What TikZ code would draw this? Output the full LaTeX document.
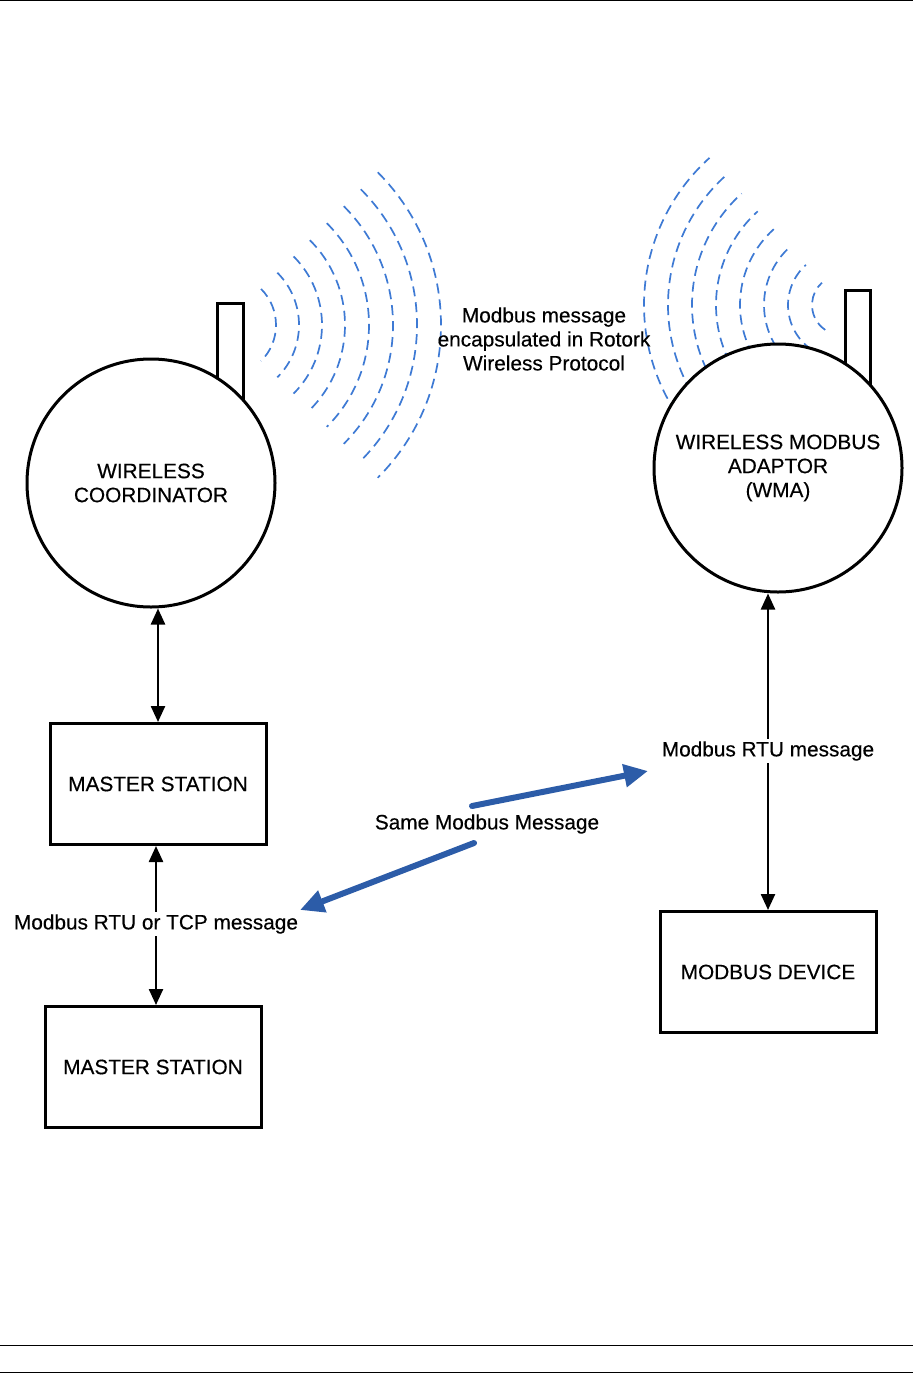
\documentclass[tikz,border=0pt]{standalone}
\usepackage{fontspec}
\setmainfont{Liberation Sans}[FakeBold=0.35]
\usetikzlibrary{arrows.meta}

\definecolor{wavecol}{RGB}{62,122,212}
\definecolor{msgcol}{RGB}{44,92,168}

\begin{document}
\begin{tikzpicture}[x=1pt,y=-1pt,
        every node/.style={font=\fontsize{20.8}{24}\selectfont},
        unit/.style={draw, circle, line width=3pt, fill=white, minimum size=248pt, inner sep=0pt, align=center},
        stationbox/.style={draw, line width=3pt, fill=white, minimum width=216pt, minimum height=121pt},
        antenna/.style={draw, line width=3pt},
        wave/.style={wavecol, line width=1.7pt, dash pattern=on 10pt off 6pt},
        link/.style={{Triangle[length=16pt,width=14pt]}-{Triangle[length=16pt,width=14pt]}, line width=2.4pt},
        samemsg/.style={-{Triangle[length=24pt,width=22pt]}, msgcol, line width=6pt, line cap=round},
        tag/.style={fill=white, inner sep=2pt}]
        \useasboundingbox (0,0) rectangle (913,1373);
        \draw[line width=1pt] (0,0.5) -- (913,0.5);
        \draw[line width=1pt] (0,1345) -- (913,1345);
        \draw[line width=1pt] (0,1372) -- (913,1372);

        % antennas
        \draw[antenna] (217,420) -- (217,303) -- (243,303) -- (243,420);
        \draw[antenna] (845,420) -- (845,290) -- (870,290) -- (870,420);

        % radio waves
        \foreach \r in {51,74,97,120,144,168,192,216}
            \draw[wave] (225,325) ++(-45:\r) arc[start angle=-45, end angle=45, radius=\r];
        \foreach \r in {30,54,78,102,126,150,174,198}
            \draw[wave] (842,305) ++(124:\r) arc[start angle=124, end angle=228, radius=\r];

        % units
        \node[unit] (coord) at (151,483) {WIRELESS\\COORDINATOR};
        \node[unit] (wma) at (778,468) {WIRELESS MODBUS\\ADAPTOR\\(WMA)};
        \node[stationbox] (master1) at (158,784) {MASTER STATION};
        \node[stationbox] (master2) at (153,1067) {MASTER STATION};
        \node[stationbox] (device) at (768,972) {MODBUS DEVICE};

        \node[align=center] (radio) at (544,339) {Modbus message\\encapsulated in Rotork\\Wireless Protocol};

        % wired links
        \draw[link] (coord.south -| master1.north) -- (master1.north);
        \draw[link] (master1.south -| 156,0) -- (master2.north -| 156,0);
        \draw[link] (wma.south -| device.north) -- (device.north);
        \node[tag] (tcpmsg) at (156,924) {Modbus RTU or TCP message};
        \node[tag] (rtumsg) at (768,751) {Modbus RTU message};

        % same message
        \node (same) at (487,824) {Same Modbus Message};
        \coordinate (sameup) at (472,806);
        \coordinate (samedown) at (474,843);
        \coordinate (rtutip) at (648,771);
        \coordinate (tcptip) at (300,910);
        \draw[samemsg] (sameup) -- (rtutip);
        \draw[samemsg] (samedown) -- (tcptip);
\end{tikzpicture}
\end{document}
